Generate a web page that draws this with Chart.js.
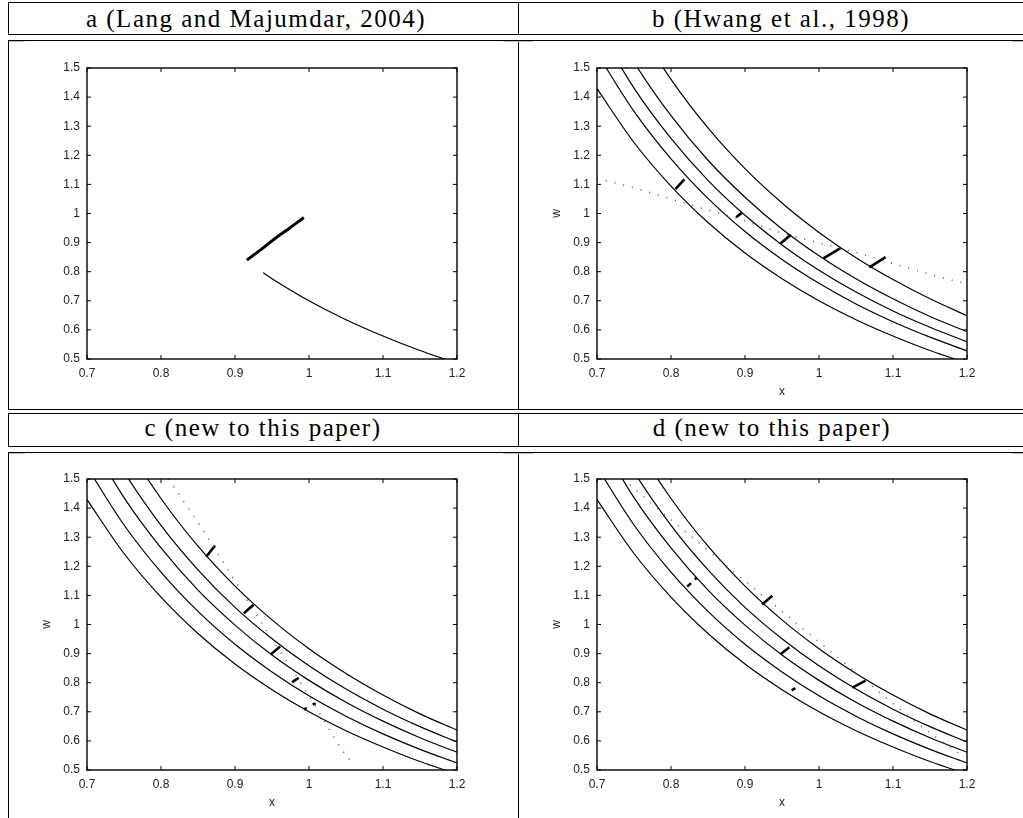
<!DOCTYPE html>
<html>
<head>
<meta charset="utf-8">
<script src="https://cdn.jsdelivr.net/npm/chart.js@4.4.0/dist/chart.umd.min.js"></script>
<style>
  body { margin: 0; background: #fff; width: 1023px; height: 818px; overflow: hidden; position: relative; }
  .row { position: absolute; left: 8px; width: 1040px; box-sizing: border-box; border: 1px solid #000; border-right: none; }
  .vline { position: absolute; left: 518px; width: 1px; background: #000; }
  .hdr { position: absolute; width: 420px; text-align: center; font-family: "Liberation Serif", serif;
         font-size: 25px; line-height: 25px; letter-spacing: 1.5px; color: #000; white-space: nowrap; }
  .edge { position: absolute; height: 1px; background: #bbb; }
  canvas { position: absolute; }
</style>
</head>
<body>
<!-- table frame -->
<div class="row" style="top:2px;height:33px"></div>
<div class="row" style="top:40px;height:370px"></div>
<div class="row" style="top:413px;height:34px"></div>
<div class="row" style="top:452px;height:380px"></div>
<div class="vline" style="top:2px;height:33px"></div>
<div class="vline" style="top:40px;height:370px"></div>
<div class="vline" style="top:413px;height:34px"></div>
<div class="vline" style="top:452px;height:366px"></div>
<div class="edge" style="top:41px;left:9px;width:16px"></div>
<div class="edge" style="top:41px;left:503px;width:30px"></div>
<div class="edge" style="top:41px;left:1012px;width:11px"></div>
<div class="edge" style="top:453px;left:9px;width:16px"></div>
<div class="edge" style="top:453px;left:503px;width:30px"></div>
<div class="edge" style="top:453px;left:1012px;width:11px"></div>

<div class="hdr" style="left:46px;top:6px">a (Lang and Majumdar, 2004)</div>
<div class="hdr" style="left:571px;top:6px">b (Hwang et al., 1998)</div>
<div class="hdr" style="left:53px;top:415px">c (new to this paper)</div>
<div class="hdr" style="left:562px;top:415px">d (new to this paper)</div>

<canvas id="chartA" width="480" height="360" style="left:20px;top:44px"></canvas>
<canvas id="chartB" width="480" height="360" style="left:530px;top:44px"></canvas>
<canvas id="chartC" width="480" height="360" style="left:20px;top:455px"></canvas>
<canvas id="chartD" width="480" height="360" style="left:530px;top:455px"></canvas>

<script>
// ticks shared by all panels
const xTicks = [0.7, 0.8, 0.9, 1.0, 1.1, 1.2];
const xTickLabels = ['0.7', '0.8', '0.9', '1', '1.1', '1.2'];
const wTicks = [0.5, 0.6, 0.7, 0.8, 0.9, 1.0, 1.1, 1.2, 1.3, 1.4, 1.5];
const wTickLabels = ['0.5', '0.6', '0.7', '0.8', '0.9', '1', '1.1', '1.2', '1.3', '1.4', '1.5'];

// x positions where the solid curves were read
const xGrid = [0.70, 0.75, 0.80, 0.85, 0.90, 0.95, 1.00, 1.05, 1.10, 1.15, 1.20];

// panel a
const aThickX = [0.916, 0.935, 0.955, 0.975, 0.993];
const aThickW = [0.840, 0.876, 0.916, 0.952, 0.986];
const aCurveX = [0.938, 0.95, 1.00, 1.05, 1.10, 1.15, 1.183];
const aCurveW = [0.796, 0.776, 0.700, 0.635, 0.579, 0.529, 0.500];

// panel b
const bCurves = [
    [1.429, 1.244, 1.094, 0.969, 0.864, 0.776, 0.700, 0.635, 0.579, 0.529, 0.486],
    [1.551, 1.351, 1.188, 1.052, 0.938, 0.842, 0.760, 0.689, 0.628, 0.575, 0.528],
    [1.643, 1.431, 1.258, 1.114, 0.994, 0.892, 0.805, 0.730, 0.665, 0.609, 0.559],
    [1.745, 1.520, 1.336, 1.183, 1.056, 0.947, 0.855, 0.776, 0.707, 0.646, 0.594],
    [1.908, 1.662, 1.461, 1.294, 1.154, 1.036, 0.935, 0.848, 0.773, 0.707, 0.649]
];
const bDotX = [0.70, 0.75, 0.80, 0.85, 0.90, 0.95, 1.00, 1.05, 1.10, 1.15, 1.20];
const bDotW = [1.121, 1.088, 1.050, 1.012, 0.975, 0.933, 0.899, 0.866, 0.828, 0.791, 0.758];
// [x1, w1, x2, w2]
const bSegments = [
    [0.806, 1.084, 0.818, 1.117],
    [0.888, 0.987, 0.896, 1.003],
    [0.948, 0.897, 0.962, 0.927],
    [1.006, 0.846, 1.029, 0.881],
    [1.068, 0.815, 1.090, 0.850]
];

// panels c and d share the same curves
const cdCurves = [
    [1.429, 1.244, 1.094, 0.969, 0.864, 0.776, 0.700, 0.635, 0.579, 0.529, 0.486],
    [1.541, 1.342, 1.180, 1.045, 0.932, 0.837, 0.755, 0.685, 0.624, 0.571, 0.524],
    [1.649, 1.436, 1.263, 1.118, 0.998, 0.895, 0.808, 0.733, 0.668, 0.611, 0.561],
    [1.751, 1.525, 1.341, 1.188, 1.059, 0.951, 0.858, 0.778, 0.709, 0.649, 0.596],
    [1.871, 1.630, 1.433, 1.269, 1.132, 1.016, 0.917, 0.832, 0.758, 0.693, 0.637]
];

// panel c
const cDotX = [0.81, 0.85, 0.90, 0.95, 1.00, 1.05, 1.055];
const cDotW = [1.50, 1.35, 1.15, 0.95, 0.755, 0.55, 0.535];
const cSegments = [
    [0.861, 1.233, 0.873, 1.271],
    [0.912, 1.039, 0.925, 1.068],
    [0.949, 0.899, 0.961, 0.924],
    [0.977, 0.801, 0.986, 0.817],
    [0.993, 0.709, 0.997, 0.712],
    [1.005, 0.725, 1.009, 0.729]
];

// panel d
const dDotX = [0.735, 0.80, 0.85, 0.90, 0.95, 1.00, 1.05, 1.10, 1.15, 1.19];
const dDotW = [1.50, 1.36, 1.255, 1.15, 1.045, 0.94, 0.835, 0.728, 0.628, 0.555];
const dSegments = [
    [0.923, 1.069, 0.937, 1.099],
    [0.948, 0.898, 0.960, 0.922],
    [1.045, 0.783, 1.063, 0.807],
    [0.822, 1.130, 0.827, 1.142],
    [0.832, 1.156, 0.835, 1.160],
    [0.963, 0.774, 0.968, 0.781]
];

function pts(xs, ws) {
    return xs.map((x, i) => ({ x: x, y: ws[i] }));
}

function lineSet(xs, ws, width) {
    return {
        data: pts(xs, ws),
        borderColor: '#000',
        borderWidth: width,
        pointRadius: 0,
        cubicInterpolationMode: 'monotone',
        clip: 0
    };
}

function dotSet(xs, ws) {
    return {
        data: pts(xs, ws),
        borderColor: '#555',
        borderWidth: 1.5,
        borderDash: [1, 8],
        pointRadius: 0,
        cubicInterpolationMode: 'monotone',
        clip: 0
    };
}

function segSet(s) {
    return {
        data: [{ x: s[0], y: s[1] }, { x: s[2], y: s[3] }],
        borderColor: '#000',
        borderWidth: 2.6,
        pointRadius: 0,
        clip: 0
    };
}

// box round the plot and inward tick marks, matlab style
const boxPlugin = {
    id: 'box',
    afterDatasetsDraw(chart) {
        const { ctx, chartArea: a, scales: { x, y } } = chart;
        ctx.save();
        ctx.strokeStyle = '#000';
        ctx.lineWidth = 1;
        ctx.beginPath();
        xTicks.forEach(v => {
            const px = x.getPixelForValue(v);
            ctx.moveTo(px, a.bottom); ctx.lineTo(px, a.bottom - 4);
            ctx.moveTo(px, a.top); ctx.lineTo(px, a.top + 4);
        });
        wTicks.forEach(v => {
            const py = y.getPixelForValue(v);
            ctx.moveTo(a.left, py); ctx.lineTo(a.left + 4, py);
            ctx.moveTo(a.right, py); ctx.lineTo(a.right - 4, py);
        });
        ctx.stroke();
        ctx.lineWidth = 1.4;
        ctx.strokeRect(a.left, a.top, a.right - a.left, a.bottom - a.top);
        ctx.restore();
    }
};

const tickFont = { family: '"Liberation Sans", Arial, sans-serif', size: 12 };

function makeChart(id, datasets, titles) {
    return new Chart(document.getElementById(id), {
        type: 'line',
        data: { datasets: datasets },
        options: {
            responsive: false,
            animation: false,
            layout: { padding: { left: 0, right: 43, top: 24, bottom: 0 } },
            plugins: { legend: { display: false }, tooltip: { enabled: false } },
            scales: {
                x: {
                    type: 'linear',
                    min: 0.7,
                    max: 1.2,
                    afterBuildTicks: s => { s.ticks = xTicks.map(v => ({ value: v })); },
                    afterFit: s => { s.height = 45; },
                    grid: { display: false, drawTicks: false },
                    border: { display: false },
                    ticks: {
                        padding: 7, color: '#222', font: tickFont,
                        maxRotation: 0, autoSkip: false,
                        callback: (v, i) => xTickLabels[i]
                    },
                    title: { display: titles, text: 'x', color: '#222', font: tickFont, padding: { top: 0, bottom: 5 } }
                },
                y: {
                    type: 'linear',
                    min: 0.5,
                    max: 1.5,
                    afterBuildTicks: s => { s.ticks = wTicks.map(v => ({ value: v })); },
                    afterFit: s => { s.width = 67; },
                    grid: { display: false, drawTicks: false },
                    border: { display: false },
                    ticks: {
                        padding: 7, color: '#222', font: tickFont, autoSkip: false,
                        callback: (v, i) => wTickLabels[i]
                    },
                    title: { display: titles, text: 'w', color: '#222', font: tickFont, padding: { top: 19, bottom: 0 } }
                }
            }
        },
        plugins: [boxPlugin]
    });
}

// a
makeChart('chartA', [
    lineSet(aThickX, aThickW, 3),
    lineSet(aCurveX, aCurveW, 1.2)
], false);

// b
makeChart('chartB', [
    dotSet(bDotX, bDotW),
    ...bCurves.map(ws => lineSet(xGrid, ws, 1.2)),
    ...bSegments.map(segSet)
], true);

// c
makeChart('chartC', [
    dotSet(cDotX, cDotW),
    ...cdCurves.map(ws => lineSet(xGrid, ws, 1.2)),
    ...cSegments.map(segSet)
], true);

// d
makeChart('chartD', [
    dotSet(dDotX, dDotW),
    ...cdCurves.map(ws => lineSet(xGrid, ws, 1.2)),
    ...dSegments.map(segSet)
], true);
</script>
</body>
</html>
